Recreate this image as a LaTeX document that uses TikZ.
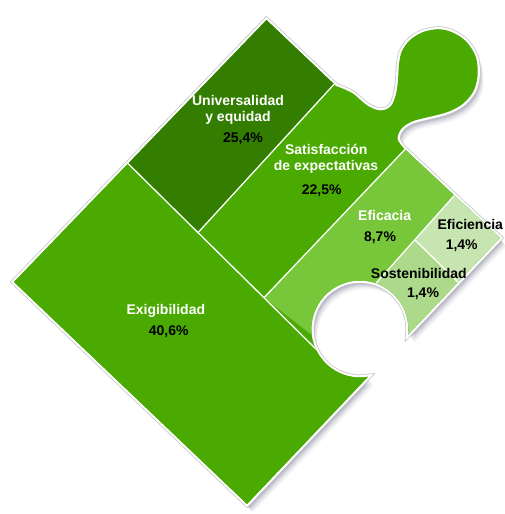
\documentclass[tikz,border=0pt]{standalone}
\usepackage{fontspec}
\setmainfont{Liberation Sans}
\definecolor{gmid}{RGB}{74,170,2}
\definecolor{gdark}{RGB}{51,126,0}
\definecolor{glight}{RGB}{120,198,58}
\definecolor{gpale}{RGB}{199,229,176}
\definecolor{gsost}{RGB}{172,217,138}
\newcommand\lblfont{\fontsize{14}{16}\selectfont\bfseries}
\def\piecepath{(266.5,20) -- plot[smooth,tension=0.55] coordinates {(336,86) (352,93) (368,106) (381,110.5) (391,106) (396,94) (398,80) (399,64) (402,51) (410,40) (422.5,32.3) (438.3,29.2) (452.5,32.4) (466.5,41.8) (476,57.5) (477.5,76.3) (473,92) (461.8,104.6) (446.2,112.5) (426.5,117.5) (412,121.5) (401.5,128.5) (397.5,139) (404,148.4)} -- (500,238) -- (408.1,334.5) arc[start angle=6.5,end angle=-279.4,radius=48.5] -- (247,504) -- (14,282) -- cycle}
\tikzset{
  wl/.style={text=white, font=\lblfont, anchor=base, inner sep=0pt},
  bl/.style={text=black, font=\lblfont, anchor=base, inner sep=0pt},
  divider/.style={white, line width=1.3pt}
}
\begin{document}
\begin{tikzpicture}[x=1pt,y=-1pt]
\useasboundingbox (0,0) rectangle (505,514);
% drop shadow
\foreach \s/\o in {1/0.10,2/0.09,3/0.08,4/0.07,5/0.06,6/0.05,7/0.04,8/0.03,9/0.02}{
  \fill[black!80!blue, opacity=\o, shift={(\s*0.7,\s)}] \piecepath;
}
% outline band
\draw[black!22, line width=6pt] \piecepath;
\draw[white, line width=4.4pt] \piecepath;
% regions
\begin{scope}
\clip \piecepath;
\fill[gmid] (0,0) rectangle (505,514);
% key points
\coordinate (p1) at (128,163.5);
\coordinate (p1o) at (98,133.9);
\coordinate (d2a) at (198,232.6);
\coordinate (d2b) at (348.7,68.3);
\coordinate (d3a) at (264,297.7);
\coordinate (d3b) at (412,142);
\coordinate (d1h) at (322,355);
\coordinate (d4t) at (460.5,188.6);
\coordinate (d4h) at (370.5,289.4);
\coordinate (d5a) at (415,240);
\coordinate (d5b) at (485,308.5);
% Universalidad
\fill[gdark] (p1o) -- (d2a) -- (d2b) -- (266,-20) -- cycle;
% Eficacia
\fill[glight] (d3a) -- (d3b) -- (560,240) -- (420,420) -- cycle;
% Eficiencia
\fill[gpale] (d5a) -- (d4t) -- (560,240) -- (d5b) -- cycle;
% Sostenibilidad
\fill[gsost] (d5a) -- (d5b) -- (400,362) -- (360,329) -- (d4h) -- cycle;
% Exigibilidad
\fill[gmid] (0,282) -- (p1o) -- (d1h) -- (386,360) -- (430,430) -- (260,560) -- (0,560) -- cycle;
% dividers
\draw[divider] (p1o) -- (d1h);
\draw[divider] (d2a) -- (d2b);
\draw[divider] (d3a) -- (d3b);
\draw[divider] (d4t) -- (d4h);
\draw[divider] (d5a) -- (d5b);
\end{scope}
% labels
\node[wl] (u1) at (238,105) {Universalidad};
\node[wl] (u2) at (238,121) {y equidad};
\node[bl] (u3) at (243,142) {25,4\%};
\node[wl] (s1) at (326.3,154) {Satisfacción};
\node[wl] (s2) at (326,170.5) {de expectativas};
\node[bl] (s3) at (321.7,194) {22,5\%};
\node[wl] (e1) at (384.7,220) {Eficacia};
\node[bl] (e2) at (380,241) {8,7\%};
\node[bl] (f1) at (470.3,229.5) {Eficiencia};
\node[bl] (f2) at (461.7,249) {1,4\%};
\node[bl] (o1) at (418.8,278) {Sostenibilidad};
\node[bl] (o2) at (423,297.5) {1,4\%};
\node[wl] (x1) at (165.8,314.6) {Exigibilidad};
\node[bl] (x2) at (168.7,335) {40,6\%};
\end{tikzpicture}
\end{document}
